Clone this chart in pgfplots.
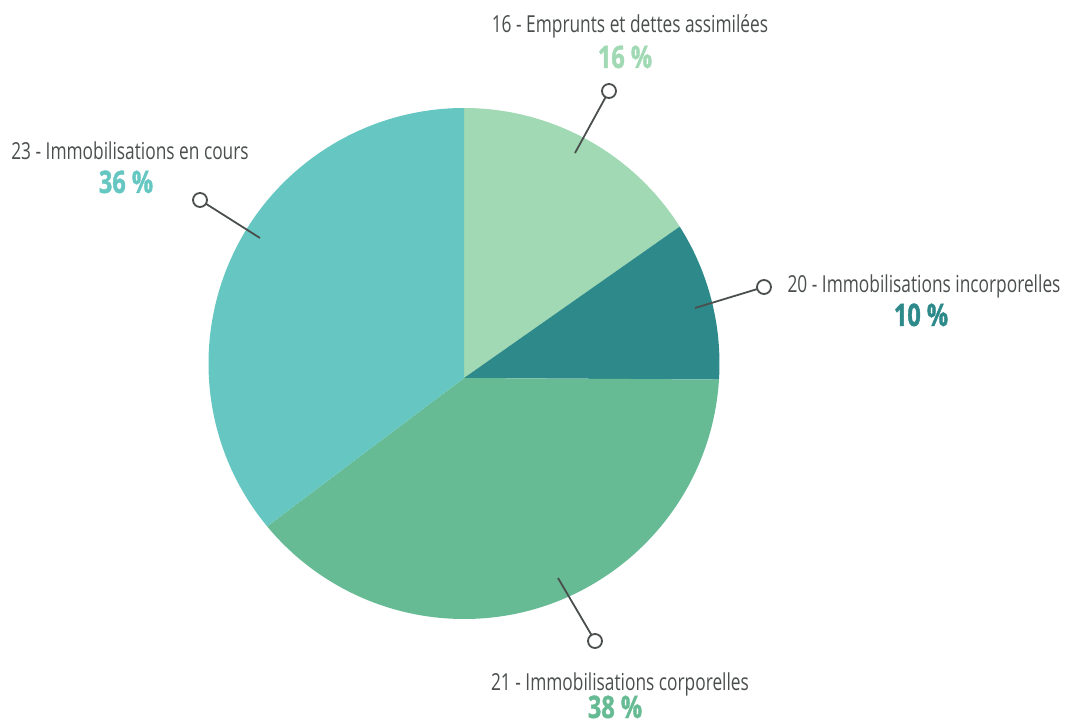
\documentclass[border=0pt]{standalone}
\usepackage{pgfplots}
\pgfplotsset{compat=1.18}
\usepackage{pgfplotstable}
\usepackage{fontspec}
\setmainfont{Open Sans}[FakeStretch=0.74]
\newfontfamily\pctfont{Open Sans}[FakeStretch=0.76, BoldFeatures={FakeBold=1.2}]
\definecolor{c16}{HTML}{A0D9B3}
\definecolor{c20}{HTML}{2E8A8A}
\definecolor{c21}{HTML}{66BB94}
\definecolor{c23}{HTML}{66C7C2}
\definecolor{txt}{HTML}{4A4F4D}
\pgfplotstableread{
code value
16 16
20 10
21 38
23 36
}\piedata
\begin{document}
\begin{tikzpicture}
\begin{axis}[
  name=ax, hide axis, scale only axis,
  width=1065pt, height=726pt,
  xmin=0, xmax=1065, ymin=0, ymax=726,
  clip=false,
]
\addplot[draw=none] coordinates {(0,0) (1065,726)};
\coordinate (BL) at (axis cs:0,0);
\coordinate (TR) at (axis cs:1065,726);
\pgfplotsextra{
  \def\cx{464}\def\cy{362.5}\def\ax{464}\def\ay{348}\def\R{255.5}
  \xdef\cum{0}
  \foreach \i/\col in {0/c16,1/c20,2/c21,3/c23}{
    \pgfplotstablegetelem{\i}{value}\of\piedata
    \let\v\pgfplotsretval
    \pgfmathsetmacro\start{90-3.6*\cum}
    \pgfmathsetmacro\stop{90-3.6*(\cum+\v)}
    \pgfmathsetmacro\sx{\cx+\R*cos(\start)}
    \pgfmathsetmacro\sy{\cy+\R*sin(\start)}
    \fill[\col] (axis cs:\ax,\ay) -- (axis cs:\sx,\sy)
      arc[start angle=\start, end angle=\stop, radius=\R pt] -- cycle;
    \pgfmathsetmacro\newcum{\cum+\v}
    \xdef\cum{\newcum}
  }
  % leader lines
  \draw[txt, line width=1.8pt] (axis cs:575,573) -- (axis cs:609,635);
  \draw[txt, line width=1.8pt, fill=white] (axis cs:609,635) circle[radius=7pt];
  \draw[txt, line width=1.8pt] (axis cs:695,418) -- (axis cs:764,439);
  \draw[txt, line width=1.8pt, fill=white] (axis cs:764,439) circle[radius=7pt];
  \draw[txt, line width=1.8pt] (axis cs:558,148) -- (axis cs:595,85);
  \draw[txt, line width=1.8pt, fill=white] (axis cs:595,85) circle[radius=7pt];
  \draw[txt, line width=1.8pt] (axis cs:260,488) -- (axis cs:200,526);
  \draw[txt, line width=1.8pt, fill=white] (axis cs:200,526) circle[radius=7pt];
}
\node[anchor=base, text=txt, font=\fontsize{23.4}{28}\selectfont, inner sep=0pt] at (axis cs:630,693) {16 - Emprunts et dettes assimilées};
\node[anchor=base, text=c16, font=\fontsize{31}{34}\pctfont\bfseries, inner sep=0pt] at (axis cs:625,658) {16 \%};
\node[anchor=base, text=txt, font=\fontsize{23.4}{28}\selectfont, inner sep=0pt] at (axis cs:130,566) {23 - Immobilisations en cours};
\node[anchor=base, text=c23, font=\fontsize{31}{34}\pctfont\bfseries, inner sep=0pt] at (axis cs:126,533) {36 \%};
\node[anchor=base, text=txt, font=\fontsize{23.4}{28}\selectfont, inner sep=0pt] at (axis cs:924,433) {20 - Immobilisations incorporelles};
\node[anchor=base, text=c20, font=\fontsize{31}{34}\pctfont\bfseries, inner sep=0pt] at (axis cs:921,400) {10 \%};
\node[anchor=base, text=txt, font=\fontsize{23.4}{28}\selectfont, inner sep=0pt] at (axis cs:620,36) {21 - Immobilisations corporelles};
\node[anchor=base, text=c21, font=\fontsize{31}{34}\pctfont\bfseries, inner sep=0pt] at (axis cs:615,8) {38 \%};
\end{axis}
\pgfresetboundingbox
\path (BL) rectangle (TR);
\end{tikzpicture}
\end{document}
